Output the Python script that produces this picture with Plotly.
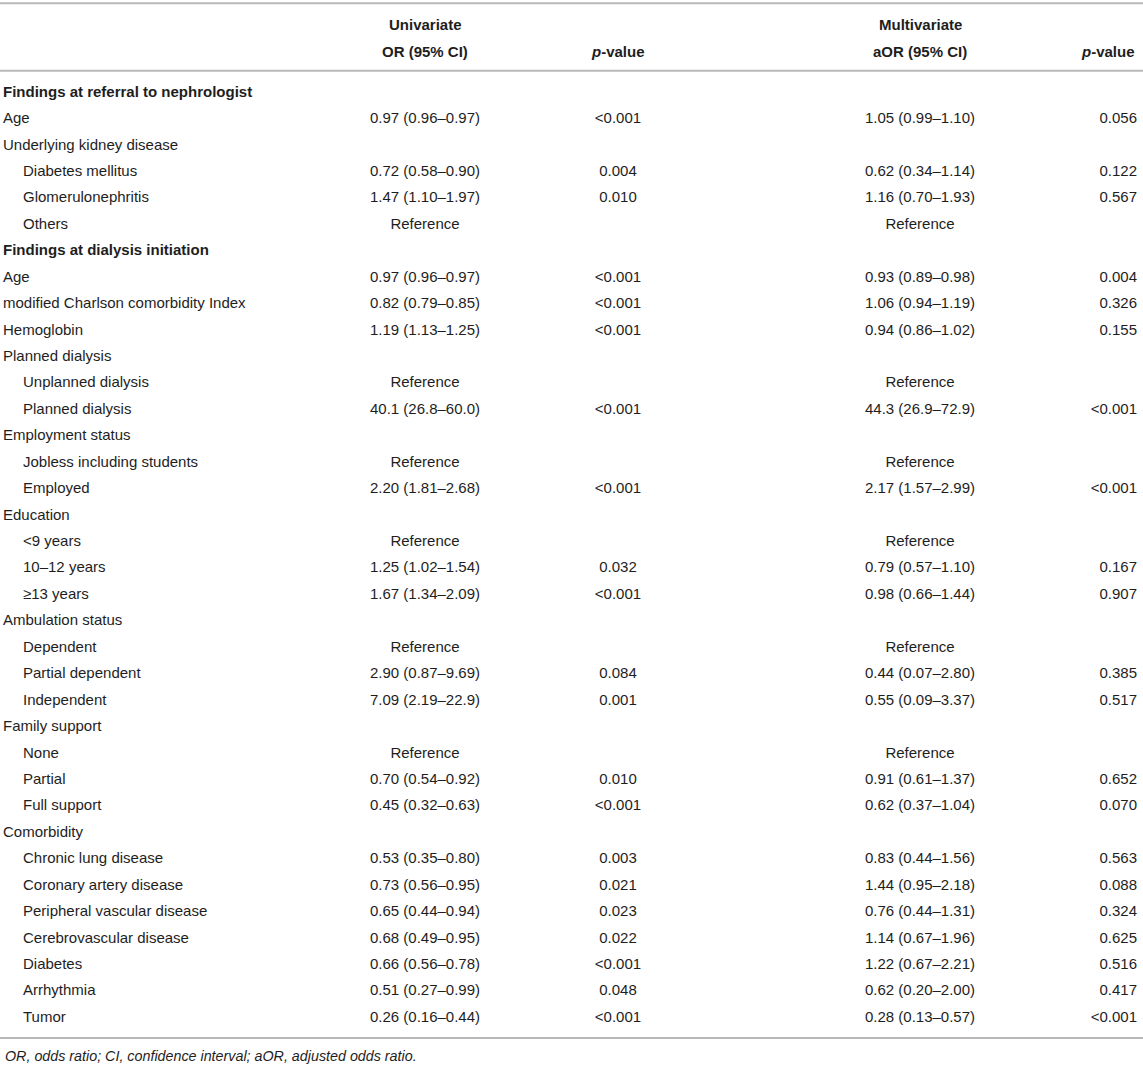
import plotly.graph_objects as go

# rows of the table (level 0 = section, 1 = variable, 2 = category)
row_labels = [
    "Findings at referral to nephrologist", "Age", "Underlying kidney disease",
    "Diabetes mellitus", "Glomerulonephritis", "Others",
    "Findings at dialysis initiation", "Age", "modified Charlson comorbidity Index",
    "Hemoglobin", "Planned dialysis", "Unplanned dialysis", "Planned dialysis",
    "Employment status", "Jobless including students", "Employed",
    "Education", "<9 years", "10–12 years", "≥13 years",
    "Ambulation status", "Dependent", "Partial dependent", "Independent",
    "Family support", "None", "Partial", "Full support",
    "Comorbidity", "Chronic lung disease", "Coronary artery disease",
    "Peripheral vascular disease", "Cerebrovascular disease", "Diabetes",
    "Arrhythmia", "Tumor",
]
row_level = [0, 1, 1, 2, 2, 2,
             0, 1, 1, 1, 1, 2, 2,
             1, 2, 2,
             1, 2, 2, 2,
             1, 2, 2, 2,
             1, 2, 2, 2,
             1, 2, 2, 2, 2, 2, 2, 2]

or_uni = [
    "", "0.97 (0.96–0.97)", "", "0.72 (0.58–0.90)", "1.47 (1.10–1.97)", "Reference",
    "", "0.97 (0.96–0.97)", "0.82 (0.79–0.85)", "1.19 (1.13–1.25)", "", "Reference", "40.1 (26.8–60.0)",
    "", "Reference", "2.20 (1.81–2.68)",
    "", "Reference", "1.25 (1.02–1.54)", "1.67 (1.34–2.09)",
    "", "Reference", "2.90 (0.87–9.69)", "7.09 (2.19–22.9)",
    "", "Reference", "0.70 (0.54–0.92)", "0.45 (0.32–0.63)",
    "", "0.53 (0.35–0.80)", "0.73 (0.56–0.95)", "0.65 (0.44–0.94)", "0.68 (0.49–0.95)",
    "0.66 (0.56–0.78)", "0.51 (0.27–0.99)", "0.26 (0.16–0.44)",
]
p_uni = [
    "", "<0.001", "", "0.004", "0.010", "",
    "", "<0.001", "<0.001", "<0.001", "", "", "<0.001",
    "", "", "<0.001",
    "", "", "0.032", "<0.001",
    "", "", "0.084", "0.001",
    "", "", "0.010", "<0.001",
    "", "0.003", "0.021", "0.023", "0.022", "<0.001", "0.048", "<0.001",
]
aor_multi = [
    "", "1.05 (0.99–1.10)", "", "0.62 (0.34–1.14)", "1.16 (0.70–1.93)", "Reference",
    "", "0.93 (0.89–0.98)", "1.06 (0.94–1.19)", "0.94 (0.86–1.02)", "", "Reference", "44.3 (26.9–72.9)",
    "", "Reference", "2.17 (1.57–2.99)",
    "", "Reference", "0.79 (0.57–1.10)", "0.98 (0.66–1.44)",
    "", "Reference", "0.44 (0.07–2.80)", "0.55 (0.09–3.37)",
    "", "Reference", "0.91 (0.61–1.37)", "0.62 (0.37–1.04)",
    "", "0.83 (0.44–1.56)", "1.44 (0.95–2.18)", "0.76 (0.44–1.31)", "1.14 (0.67–1.96)",
    "1.22 (0.67–2.21)", "0.62 (0.20–2.00)", "0.28 (0.13–0.57)",
]
p_multi = [
    "", "0.056", "", "0.122", "0.567", "",
    "", "0.004", "0.326", "0.155", "", "", "<0.001",
    "", "", "<0.001",
    "", "", "0.167", "0.907",
    "", "", "0.385", "0.517",
    "", "", "0.652", "0.070",
    "", "0.563", "0.088", "0.324", "0.625", "0.516", "0.417", "<0.001",
]

header_top = ["Univariate", "", "Multivariate", ""]
header_bottom = ["OR (95% CI)", "<i>p</i>-value", "aOR (95% CI)", "<i>p</i>-value"]
footnote = "OR, odds ratio; CI, confidence interval; aOR, adjusted odds ratio."

W, H = 1143, 1066
FONT = "Liberation Sans, Arial, sans-serif"
INK = "#1e1e1e"
SIZE = 15

first_row_px = 93
pitch = 26.43


def esc(s):
    return s.replace("<", "&lt;").replace("&lt;i>", "<i>").replace("&lt;/i>", "</i>")


def py(px):
    return 1 - px / H


rows = list(range(len(row_labels)))
fig = go.Figure()

# row labels, one trace per level
label_x = {0: 3, 1: 3, 2: 23}
for lvl in (0, 1, 2):
    idx = [i for i in rows if row_level[i] == lvl]
    txt = [esc(row_labels[i]) for i in idx]
    if lvl == 0:
        txt = ["<b>" + t + "</b>" for t in txt]
    fig.add_trace(go.Scatter(
        x=[label_x[lvl]] * len(idx), y=idx, text=txt, mode="text",
        textposition="middle right", hoverinfo="skip",
        textfont=dict(family=FONT, size=SIZE, color=INK)))

col_x = [425, 618, 920, 1137]
col_pos = ["middle center", "middle center", "middle center", "middle left"]
for vals, cx, pos in zip([or_uni, p_uni, aor_multi, p_multi], col_x, col_pos):
    fig.add_trace(go.Scatter(
        x=[cx] * len(rows), y=rows, text=[esc(v) for v in vals], mode="text",
        textposition=pos, hoverinfo="skip",
        textfont=dict(family=FONT, size=SIZE, color=INK)))

# header
anchors = ["center", "center", "center", "right"]
for t1, t2, cx, xa in zip(header_top, header_bottom, col_x, anchors):
    for txt, ypx in ((t1, 25), (t2, 51)):
        if txt:
            fig.add_annotation(x=cx / W, y=py(ypx), xref="paper", yref="paper",
                               text="<b>" + txt + "</b>", showarrow=False,
                               xanchor=xa, yanchor="middle",
                               font=dict(family=FONT, size=SIZE, color=INK))

fig.add_annotation(x=3 / W, y=py(1056), xref="paper", yref="paper",
                   text="<i>" + footnote + "</i>", showarrow=False,
                   xanchor="left", yanchor="middle",
                   font=dict(family=FONT, size=14.3, color=INK))

for ypx in (3.3, 70.7, 1038):
    fig.add_shape(type="line", xref="paper", yref="paper", x0=0, x1=1,
                  y0=py(ypx), y1=py(ypx), line=dict(color="#b8b8b8", width=2))

fig.update_layout(
    width=W, height=H, margin=dict(l=0, r=0, t=0, b=0),
    paper_bgcolor="white", plot_bgcolor="white", showlegend=False,
    xaxis=dict(range=[0, W], visible=False, fixedrange=True),
    yaxis=dict(range=[(H - first_row_px) / pitch, -first_row_px / pitch],
               visible=False, fixedrange=True),
)

fig.write_html("out.html", config={"displayModeBar": False},
               post_script="document.body.style.margin='0px';")
